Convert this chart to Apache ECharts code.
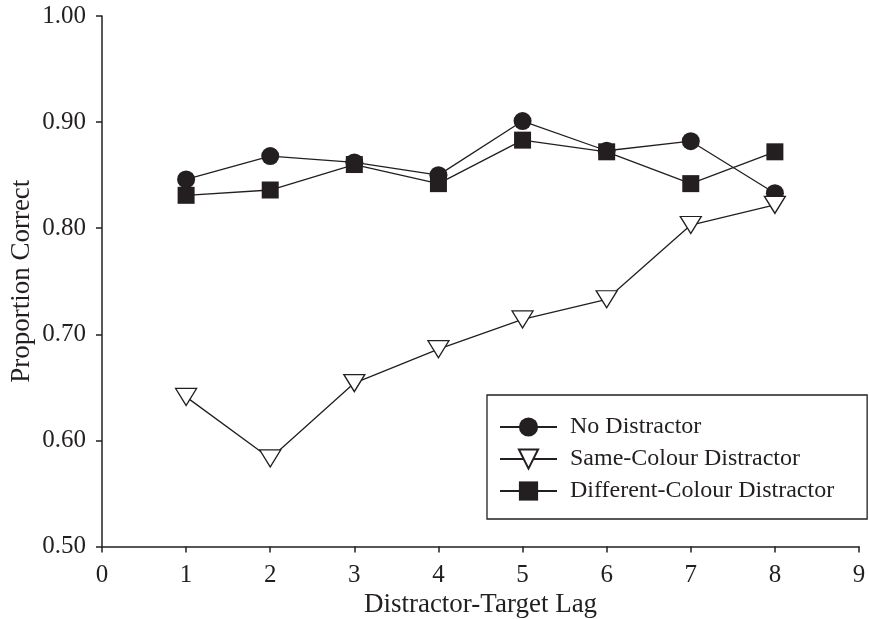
<!DOCTYPE html>
<html>
<head>
<meta charset="utf-8">
<script src="https://cdn.jsdelivr.net/npm/echarts@6/dist/echarts.min.js"></script>
<style>
html,body{margin:0;padding:0;background:#fff;}
#chart{width:869px;height:619px;}
</style>
</head>
<body>
<div id="chart"></div>
<script>
const lags = [1, 2, 3, 4, 5, 6, 7, 8];
const noDistractor = [0.846, 0.868, 0.862, 0.850, 0.901, 0.873, 0.882, 0.833];
const sameColour = [0.641, 0.583, 0.654, 0.686, 0.714, 0.733, 0.803, 0.822];
const differentColour = [0.831, 0.836, 0.860, 0.842, 0.883, 0.872, 0.842, 0.872];
const seriesNames = ['No Distractor', 'Same-Colour Distractor', 'Different-Colour Distractor'];
const yTicks = [0.5, 0.6, 0.7, 0.8, 0.9, 1.0];

const ink = '#231f20';
const font = 'Liberation Serif, Times New Roman, serif';
const pairs = arr => lags.map((x, i) => [x, arr[i]]);

const chart = echarts.init(document.getElementById('chart'), null, {renderer: 'canvas'});
chart.setOption({
  animation: false,
  backgroundColor: '#fff',
  grid: {left: 102, top: 16, right: 10, bottom: 72.5, containLabel: false, outerBoundsMode: 'none'},
  xAxis: {
    type: 'value', min: 0, max: 9, interval: 1,
    name: 'Distractor-Target Lag', nameLocation: 'middle', nameGap: 45, nameMoveOverlap: false,
    nameTextStyle: {fontFamily: font, fontSize: 27, color: ink},
    axisLine: {show: true, lineStyle: {color: ink, width: 1.5}},
    axisTick: {show: true, inside: false, length: 6, lineStyle: {color: ink, width: 1.5}},
    axisLabel: {fontFamily: font, fontSize: 25, color: ink, margin: 16},
    splitLine: {show: false}
  },
  yAxis: {
    type: 'value', min: yTicks[0], max: yTicks[yTicks.length - 1], interval: 0.1,
    name: 'Proportion Correct', nameLocation: 'middle', nameGap: 67, nameMoveOverlap: false,
    nameTextStyle: {fontFamily: font, fontSize: 27, color: ink},
    axisLine: {show: true, lineStyle: {color: ink, width: 1.5}},
    axisTick: {show: true, inside: false, length: 6, lineStyle: {color: ink, width: 1.5}},
    axisLabel: {fontFamily: font, fontSize: 25, color: ink, margin: 16,
      formatter: v => v.toFixed(2)},
    splitLine: {show: false}
  },
  legend: {
    left: 487, top: 395,
    orient: 'vertical',
    itemWidth: 57, itemHeight: 24, itemGap: 8,
    padding: [20, 33, 16, 12],
    borderColor: ink, borderWidth: 1.3,
    backgroundColor: '#fff',
    textStyle: {fontFamily: font, fontSize: 24, color: ink, padding: [0, 0, 0, 8]},
    data: seriesNames
  },
  series: [
    {
      name: seriesNames[0], type: 'line', data: pairs(noDistractor),
      symbol: 'circle', symbolSize: 18,
      lineStyle: {color: ink, width: 1.3},
      itemStyle: {color: ink, borderColor: ink, borderWidth: 0},
      z: 2
    },
    {
      name: seriesNames[1], type: 'line', data: pairs(sameColour),
      symbol: 'path://M0,0 L20,0 L10,17 Z', symbolSize: [21, 17],
      lineStyle: {color: ink, width: 1.3},
      itemStyle: {color: '#fff', borderColor: ink, borderWidth: 1.3},
      z: 3
    },
    {
      name: seriesNames[2], type: 'line', data: pairs(differentColour),
      symbol: 'rect', symbolSize: 17,
      lineStyle: {color: ink, width: 1.3},
      itemStyle: {color: ink, borderColor: ink, borderWidth: 0},
      z: 4
    }
  ]
});
</script>
</body>
</html>
